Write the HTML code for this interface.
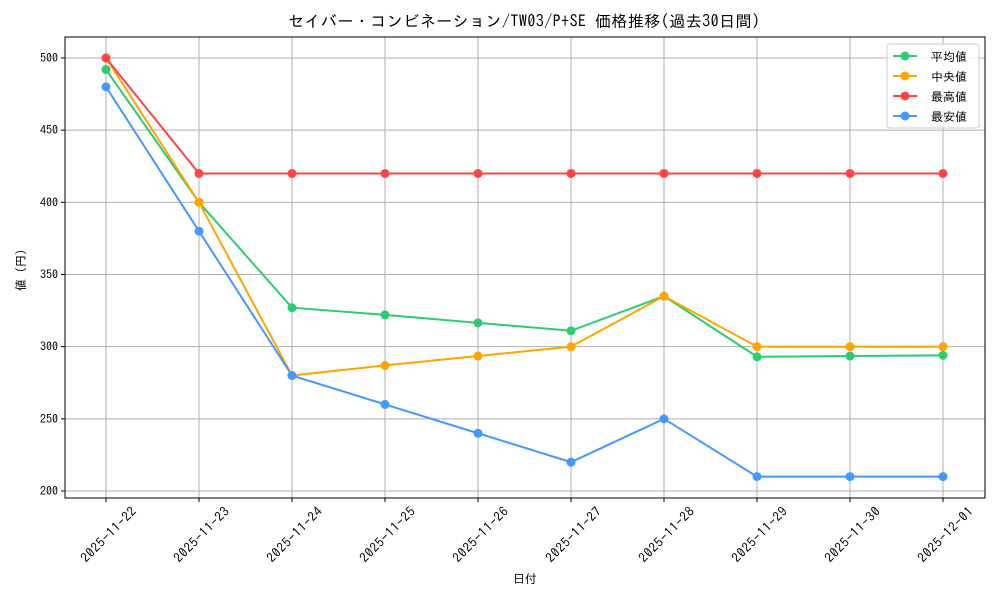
<!DOCTYPE html>
<html><head><meta charset="utf-8">
<style>
html,body{margin:0;padding:0;background:#fff;}
svg{display:block;font-family:"IPAGothic","Liberation Mono","Noto Sans CJK JP",monospace;}
</style></head>
<body>
<svg id="chart" width="1000" height="600">
<rect x="0" y="0" width="1000" height="600" fill="#fff"/>
<text x="524" y="27" text-anchor="middle" font-size="16" textLength="472" fill="#000">セイバー・コンビネーション/TW03/P+SE 価格推移(過去30日間)</text>
<g id="grid"></g>
<g id="axes"></g>
<g id="series"></g>
<text x="525" y="583" text-anchor="middle" font-size="12">日付</text>
<text transform="translate(25,270) rotate(-90)" text-anchor="middle" font-size="12">値 (円)</text>
<g id="legend">
<rect x="887" y="44" width="92" height="84" fill="#fff" fill-opacity="0.8" stroke="#ccc" rx="3"/>
</g>
</svg>
<script>
const categories=["2025-11-22","2025-11-23","2025-11-24","2025-11-25","2025-11-26","2025-11-27","2025-11-28","2025-11-29","2025-11-30","2025-12-01"];
const avgValues=[492,400,327,322,316.5,311,335,293,293.5,294];
const medianValues=[500,400,280,287,293.5,300,335,300,300,300];
const maxValues=[500,420,420,420,420,420,420,420,420,420];
const minValues=[480,380,280,260,240,220,250,210,210,210];
const yTicks=[200,250,300,350,400,450,500];
const seriesNames=["平均値","中央値","最高値","最安値"];
const NS="http://www.w3.org/2000/svg";
const L=65,R=985,T=37,B=498;
function xs(i){return 106+i*(943-106)/(categories.length-1);}
function ys(v){return 491-(v-200)*(491-58)/300;}
function mk(tag,attrs,parent){const e=document.createElementNS(NS,tag);for(const k in attrs)e.setAttribute(k,attrs[k]);parent.appendChild(e);return e;}
const grid=document.getElementById('grid'),axes=document.getElementById('axes'),ser=document.getElementById('series'),leg=document.getElementById('legend');
categories.forEach((c,i)=>{
  const x=xs(i);
  const g=mk('line',{x1:x,x2:x,y1:T,y2:B,stroke:'#b0b0b0','stroke-width':1},grid);
  
  
  mk('line',{x1:x,x2:x,y1:B,y2:B+4,stroke:'#000'},axes);
  const ax=x+2,ay=B+43;
  const t=mk('text',{x:ax,y:ay,'font-size':13,'text-anchor':'middle',textLength:72,transform:`rotate(-45 ${x} ${B+37})`},axes);
  t.textContent=c;
  
  
});
yTicks.forEach(v=>{
  const y=ys(v);
  const g=mk('line',{x1:L,x2:R,y1:y,y2:y,stroke:'#b0b0b0','stroke-width':1},grid);
  
  
  mk('line',{x1:L-4,x2:L,y1:y,y2:y,stroke:'#000'},axes);
  const t=mk('text',{x:L-7,y:y+4,'font-size':12,'text-anchor':'end'},axes);
  t.textContent=v;
  
  
});
const frame=mk('rect',{x:L,y:T,width:R-L,height:B-T,fill:'none',stroke:'#000','stroke-width':1},axes);


const all=[avgValues,medianValues,maxValues,minValues];
const colors=["#2ecc71","#ffa500","#ff4444","#4499ff"];
const keys=["avg","median","max","min"];
all.forEach((vals,s)=>{
  const g=mk('g',{},ser);
  
  
  const p=mk('polyline',{points:vals.map((v,i)=>xs(i)+','+ys(v)).join(' '),fill:'none',stroke:colors[s],'stroke-width':2},g);
  
  
  vals.forEach((v,i)=>{
    const c=mk('circle',{cx:xs(i),cy:ys(v),r:4.5,fill:colors[s]},g);
    
    
  });
  const ly=56+s*20;
  const e=mk('g',{},leg);
  
  
  mk('line',{x1:893,x2:917,y1:ly,y2:ly,stroke:colors[s],'stroke-width':2},e);
  mk('circle',{cx:905,cy:ly,r:4.5,fill:colors[s]},e);
  const t=mk('text',{x:931,y:ly+5,'font-size':12},e);
  t.textContent=seriesNames[s];
});
</script>
</body></html>
